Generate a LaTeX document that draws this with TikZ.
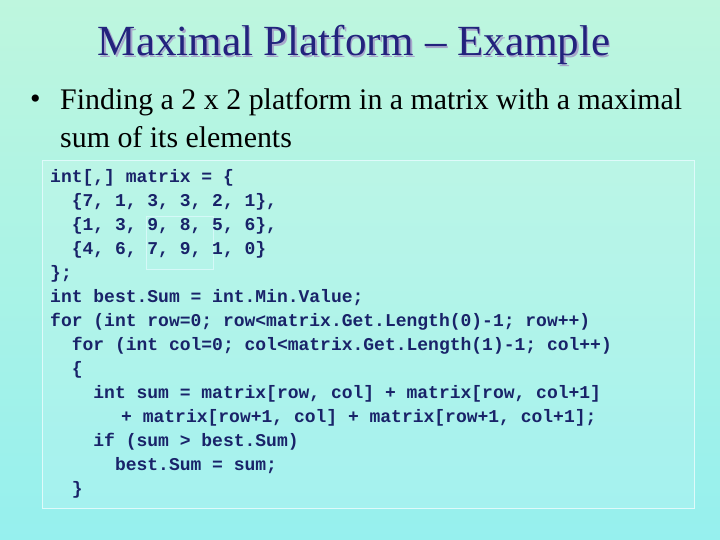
\documentclass[tikz,border=0pt]{standalone}
\usepackage{fontspec}
\setmainfont{Liberation Serif}
\newfontfamily\codefont{Liberation Mono}
\begin{document}
\begin{tikzpicture}[x=1pt,y=-1pt,
  code/.style={anchor=west,inner sep=0pt,font=\codefont\bfseries\fontsize{18}{20}\selectfont,text=codecol},
]
\definecolor{codecol}{RGB}{25,35,105}
\definecolor{titlecol}{RGB}{35,35,125}
\definecolor{topc}{RGB}{190,246,222}
\definecolor{botc}{RGB}{150,240,238}
\shade[top color=topc,bottom color=botc] (0,0) rectangle (720,540);
\useasboundingbox (0,0) rectangle (720,540);
\node[text=white!60!titlecol,font=\fontsize{43}{46}\selectfont] at (355.5,46.5) {Maximal Platform – Example};
\node (title) [text=titlecol,font=\fontsize{43}{46}\selectfont] at (354,45) {Maximal Platform – Example};
\node (bul) [anchor=west,inner sep=0pt,font=\fontsize{30}{34}\selectfont] at (30,102) {•};
\node (b1) [anchor=west,inner sep=0pt,font=\fontsize{29.9}{34}\selectfont] at (60,102) {Finding a 2 x 2 platform in a matrix with a maximal};
\node (b2) [anchor=west,inner sep=0pt,font=\fontsize{29.9}{34}\selectfont] at (60,137) {sum of its elements};
\draw[white!70!botc,line width=1pt,fill=white,fill opacity=0.12] (42,161) rectangle (694,508);
\draw[white!60!botc,line width=0.8pt] (146,216) rectangle (213,269);
\node[code] (l1) at (50,178) {int[,] matrix = \{};
\node[code] (l2) at (71.6,202) {\{7, 1, 3, 3, 2, 1\},};
\node[code] (l3) at (71.6,226) {\{1, 3, 9, 8, 5, 6\},};
\node[code] (l4) at (71.6,250) {\{4, 6, 7, 9, 1, 0\}};
\node[code] (l5) at (50,274) {\};};
\node[code] (l6) at (50,298) {int best.Sum = int.Min.Value;};
\node[code] (l7) at (50,322) {for (int row=0; row<matrix.Get.Length(0)-1; row++)};
\node[code] (l8) at (71.6,346) {for (int col=0; col<matrix.Get.Length(1)-1; col++)};
\node[code] (l9) at (71.6,370) {\{};
\node[code] (l10) at (93.2,394) {int sum = matrix[row, col] + matrix[row, col+1]};
\node[code] (l11) at (121,418) {+ matrix[row+1, col] + matrix[row+1, col+1];};
\node[code] (l12) at (93.2,442) {if (sum > best.Sum)};
\node[code] (l13) at (114.8,466) {best.Sum = sum;};
\node[code] (l14) at (71.6,490) {\}};
\end{tikzpicture}
\end{document}
